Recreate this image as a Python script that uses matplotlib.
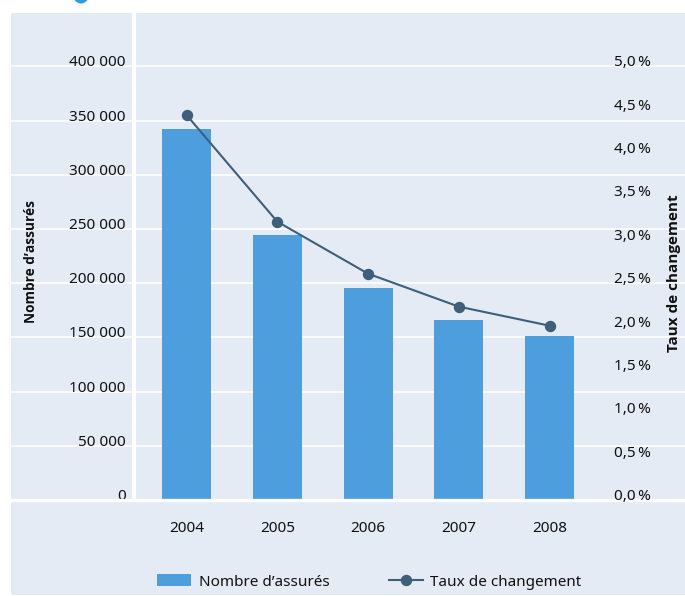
import matplotlib
matplotlib.use("Agg")
import matplotlib.pyplot as plt
from matplotlib.patches import Rectangle, Ellipse

plt.rcParams["font.family"] = ["Noto Sans", "DejaVu Sans"]

# data
years = ["2004", "2005", "2006", "2007", "2008"]
insured = [342000, 244500, 195500, 166000, 151300]
change_pct = [4.44, 3.21, 2.61, 2.23, 2.01]
left_ticks = [0, 50000, 100000, 150000, 200000, 250000, 300000, 350000, 400000]
right_ticks = [0.0, 0.5, 1.0, 1.5, 2.0, 2.5, 3.0, 3.5, 4.0, 4.5, 5.0]

BG = "#e5ebf4"
BAR = "#4c9edc"
LINE = "#3d5f7a"
TXT = "#111111"
BOLD_FONT = ["Open Sans", "Lato", "DejaVu Sans"]

W, H = 685, 596
fig = plt.figure(figsize=(W / 100, H / 100), dpi=100, facecolor="white")

# panel background + small blue badge at the top
fig.add_artist(Rectangle((11 / W, 1 / H), 1 - 11 / W, (583 - 1) / H,
                         transform=fig.transFigure, facecolor=BG,
                         edgecolor="none", zorder=-5))
fig.add_artist(Ellipse((81 / W, (H + 4) / H), 15 / W, 15 / H,
                       transform=fig.transFigure, facecolor="#2a9fe0",
                       edgecolor="none", zorder=-5))

ax = fig.add_axes([11 / W, (H - 500) / H, 674 / W, 487 / H])
ax.set_facecolor("none")
ax.set_axisbelow(True)

x = list(range(len(years)))
bars = ax.bar(x, insured, width=0.54, color=BAR, zorder=2)

ymax = 449262
ax.set_ylim(0, ymax)
ax.set_xlim(-1.934, 5.493)
ax.axvline(-0.5785, color="white", lw=2.9, zorder=1)

ax.set_yticks(left_ticks)
ax.set_yticklabels([f"{v:,}".replace(",", " ") for v in left_ticks])
ax.yaxis.grid(True, color="white", lw=1.1)
ax.tick_params(axis="y", length=0, pad=-82.5, labelsize=11, labelcolor=TXT)
for lab in ax.get_yticklabels():
    lab.set_verticalalignment("baseline")

ax.set_xticks(x)
ax.set_xticklabels(years)
ax.tick_params(axis="x", length=0, pad=15, labelsize=11, labelcolor=TXT)

for side in ["left", "right", "top"]:
    ax.spines[side].set_visible(False)
ax.spines["bottom"].set_color("white")
ax.spines["bottom"].set_linewidth(2.4)

ax.set_ylabel("Nombre d’assurés", fontsize=9.8, fontweight="bold", color=TXT,
              family=BOLD_FONT, ha="center", va="center")
ax.yaxis.set_label_coords(20 / 674, (500 - 261.5) / 487)

# change rate on the right axis
ax2 = ax.twinx()
ax2.set_facecolor("none")
line, = ax2.plot(x, change_pct, color=LINE, lw=1.5, marker="o",
                 markersize=7.2, zorder=3)
ax2.set_ylim(0, ymax / 80000)
ax2.set_yticks(right_ticks)
ax2.set_yticklabels([f"{v:.1f}".replace(".", ",") + "\u2009%" for v in right_ticks])
ax2.tick_params(axis="y", length=0, pad=-51, labelsize=11, labelcolor=TXT)
for lab in ax2.get_yticklabels():
    lab.set_verticalalignment("baseline")
for side in ["left", "right", "top", "bottom"]:
    ax2.spines[side].set_visible(False)

ax2.set_ylabel("Taux de changement", fontsize=11, fontweight="bold", color=TXT,
               family=BOLD_FONT, ha="center", va="center")
ax2.yaxis.set_label_coords(663 / 674, (500 - 273) / 487)

fig.legend([bars, line], ["Nombre d’assurés", "Taux de changement"],
           loc="center", bbox_to_anchor=(369.5 / W, 14 / H), ncol=2,
           frameon=False, fontsize=11, labelcolor=TXT, handlelength=2.2,
           handleheight=0.8, handletextpad=0.5, columnspacing=3.9,
           numpoints=1)

fig.savefig("out.png", dpi=100, facecolor="white")
